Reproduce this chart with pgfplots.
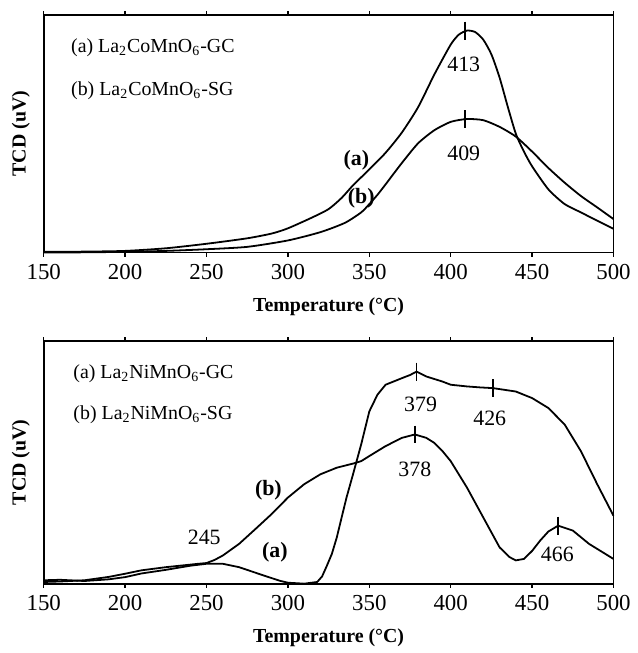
\documentclass[border=0pt]{standalone}
\usepackage{fontspec}
\setmainfont{Liberation Serif}
\usepackage{pgfplots}
\pgfplotsset{compat=1.18}

\pgfplotsset{
  tprstyle/.style={
    anchor=north west,
    scale only axis,
    width=286.5pt,
    xmin=150, xmax=500,
    ymin=0, ymax=100,
    xtick={150,200,...,500},
    ytick=\empty,
    tick align=outside,
    major tick length=2pt,
    axis line style={line width=0.9pt},
    every tick/.style={line width=0.7pt, black},
    tick label style={font=\fontsize{11.5}{13}\selectfont},
    /pgf/number format/assume math mode=true,
    /pgf/number format/1000 sep={},
    xticklabel style={yshift=-0.5pt},
    xlabel={\textbf{Temperature (°C)}},
    ylabel={\textbf{TCD (uV)}},
    label style={font=\fontsize{11.5}{13}\selectfont},
    every axis x label/.style={at={(axis description cs:0.5,0)},anchor=center,yshift=-27pt},
    every axis y label/.style={at={(axis description cs:-0.04,0.5)},rotate=90,anchor=center},
    clip=false,
    every axis plot/.append style={black, line width=0.9pt},
  },
}
\tikzset{
  legtext/.style={anchor=west, inner sep=0pt, font=\fontsize{10}{12}\selectfont},
  peaklab/.style={font=\fontsize{11}{13}\selectfont},
  curvelab/.style={font=\bfseries\fontsize{11}{13}\selectfont},
}

\begin{document}
\begin{tikzpicture}
% ---------- top: La2CoMnO6 ----------
\begin{axis}[tprstyle, at={(0,0)}, height=119.5pt]
\addplot[mark=none, smooth, tension=0.4] coordinates {
 (150,0.3) (175,0.4) (200,0.7) (225,1.8) (250,3.7) (275,6) (290,8) (300,10.2)
 (315,14.8) (325,18.3) (333,23) (340,28.3) (350,35) (360,42) (370,50.5)
 (380,61.2) (390,75) (400,87.5) (405,91.7) (410,93.4) (415,92.8) (420,89.6)
 (425,83.4) (430,73.7) (435,61.5) (440,50) (445,42.5) (450,36.3) (460,26.6)
 (470,20.4) (480,16.9) (490,13.4) (500,10)
};
\addplot[mark=none, smooth, tension=0.4] coordinates {
 (150,0) (175,0.1) (200,0.3) (225,0.7) (250,1.4) (275,2.4) (300,5.1) (320,8.6)
 (335,12.5) (345,16.9) (350,20.4) (355,24.3) (360,28.7) (370,37.7) (380,46)
 (390,51.5) (400,55) (410,56.2) (420,55.7) (430,52.9) (440,48.8) (450,42.5)
 (460,35.6) (470,29.4) (480,23.8) (490,19) (500,14.1)
};
\addplot[only marks, mark=|, mark size=4.5pt, mark options={line width=0.9pt}] coordinates {
 (409,93.4) (409,56.2)
};
\node[legtext] at (axis cs:166.6,86) {(a) La\textsubscript{2}CoMnO\textsubscript{6}-GC};
\node[legtext] at (axis cs:166.6,68) {(b) La\textsubscript{2}CoMnO\textsubscript{6}-SG};
\node[peaklab] at (axis cs:408,79) {413};
\node[peaklab] at (axis cs:408,41.8) {409};
\node[curvelab] at (axis cs:342,39) {(a)};
\node[curvelab] at (axis cs:345,23) {(b)};
\end{axis}

% ---------- bottom: La2NiMnO6 ----------
\begin{axis}[tprstyle, at={(0,-164pt)}, height=122pt]
\addplot[mark=none] coordinates {
 (150,1.4) (160,1.6) (175,1.1) (190,1.8) (200,2.7) (210,4.2) (225,5.7) (240,7.4)
 (250,8.2) (260,8.2) (270,6.8) (285,3.4) (295,1.2) (300,0.4) (310,0) (318,0.7)
 (321,3) (324,7.5) (327,12.3) (330,19) (333,27.3) (336,35.5) (340,45.1) (345,57.4)
 (350,71) (355,77.9) (360,82) (370,84.7) (375,86) (379,87.4) (385,85.4) (395,83.3)
 (400,82) (410,81.3) (418,80.9) (426,80.6) (440,79.2) (450,76.5) (460,72.4)
 (470,65.6) (480,54.6) (490,41) (500,28)
};
\addplot[mark=none] coordinates {
 (150,0.7) (160,0.9) (175,1.4) (190,2.8) (200,4.1) (210,5.5) (225,6.8)
 (245,8.2) (250,8.5) (255,9.8) (260,11.6) (270,16.4) (280,22.5) (290,28.7) (300,35.5)
 (310,41) (320,45.1) (330,47.8) (340,49.5) (345,50.5) (350,52.6) (360,56.7)
 (370,60.1) (378,61.5) (385,60.1) (390,58) (395,54.6) (400,50.5) (410,39.6) (420,27.3)
 (430,15) (436,11) (440,9.6) (445,10.2) (450,13.5) (455,17.8) (460,21.5)
 (466,23.9) (475,21.9) (485,16.4) (500,10.2)
};
\addplot[only marks, mark=|, mark size=4.5pt, mark options={line width=0.9pt}] coordinates {
 (379,87.4) (426,80.6) (378,61.5) (466,23.9)
};
\node[legtext] at (axis cs:168,86.7) {(a) La\textsubscript{2}NiMnO\textsubscript{6}-GC};
\node[legtext] at (axis cs:168,69.7) {(b) La\textsubscript{2}NiMnO\textsubscript{6}-SG};
\node[peaklab] at (axis cs:381.5,74) {379};
\node[peaklab] at (axis cs:424,68.3) {426};
\node[peaklab] at (axis cs:378,47) {378};
\node[peaklab] at (axis cs:465.5,12) {466};
\node[peaklab] at (axis cs:248.6,19.1) {245};
\node[curvelab] at (axis cs:288,38.5) {(b)};
\node[curvelab] at (axis cs:292,13) {(a)};
\end{axis}
\path (0,7.5pt) (-22pt,0);
\end{tikzpicture}
\end{document}
